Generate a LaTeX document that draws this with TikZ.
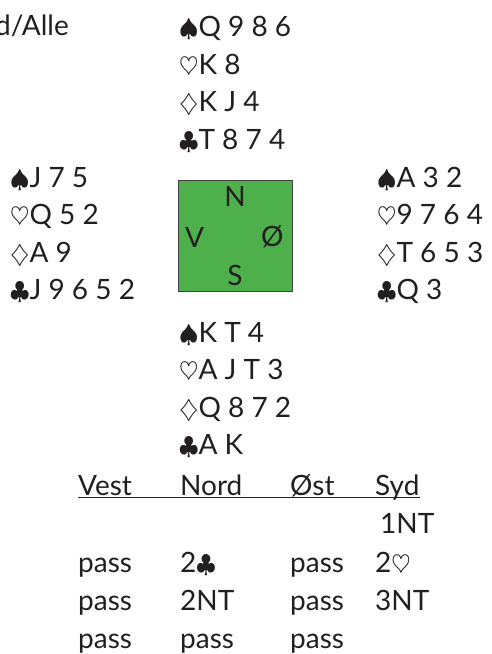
\documentclass[tikz,border=0pt]{standalone}
\usepackage{amsmath,amssymb}
\usepackage{fontspec}
\setmainfont{Lato}
\usetikzlibrary{positioning}
\definecolor{ink}{HTML}{231F20}
\definecolor{feltgreen}{HTML}{4DB04B}

\begin{document}
\begin{tikzpicture}[x=1pt, y=-1pt,
  txt/.style={inner sep=0pt, anchor=base west, text=ink,
              font=\fontsize{28}{34}\selectfont},
  cardrow/.style={txt, below=37.6pt of #1.base west, anchor=base west},
  seat/.style={txt, anchor=center},
  table/.style={rectangle, draw=black!75, fill=feltgreen, line width=0.8pt,
                minimum width=114pt, minimum height=111pt, inner sep=0pt},
]
  \useasboundingbox (0,0) rectangle (492,654);

  \node[txt, anchor=base east] (dealer) at (69,35) {Syd/Alle};

  % North
  \node[txt] (n1) at (179,36.5) {$\spadesuit$Q 9 8 6};
  \node[cardrow=n1] (n2) {$\heartsuit$K 8};
  \node[cardrow=n2] (n3) {$\diamondsuit$K J 4};
  \node[cardrow=n3] (n4) {$\clubsuit$T 8 7 4};

  % West
  \node[txt] (w1) at (10,187) {$\spadesuit$J 7 5};
  \node[cardrow=w1] (w2) {$\heartsuit$Q 5 2};
  \node[cardrow=w2] (w3) {$\diamondsuit$A 9};
  \node[cardrow=w3] (w4) {$\clubsuit$J 9 6 5 2};

  % East
  \node[txt] (e1) at (377,187) {$\spadesuit$A 3 2};
  \node[cardrow=e1] (e2) {$\heartsuit$9 7 6 4};
  \node[cardrow=e2] (e3) {$\diamondsuit$T 6 5 3};
  \node[cardrow=e3] (e4) {$\clubsuit$Q 3};

  % South
  \node[txt] (s1) at (179,342) {$\spadesuit$K T 4};
  \node[cardrow=s1] (s2) {$\heartsuit$A J T 3};
  \node[cardrow=s2] (s3) {$\diamondsuit$Q 8 7 2};
  \node[cardrow=s3] (s4) {$\clubsuit$A K};

  % table with seats
  \node[table] (felt) at (235,235.5) {};
  \node[seat] (seatN) at ([yshift=-17pt]felt.north) {N};
  \node[seat] (seatV) at ([xshift=17pt,yshift=-1.5pt]felt.west) {V};
  \node[seat] (seatO) at ([xshift=-20pt,yshift=-1.5pt]felt.east) {Ø};
  \node[seat] (seatS) at ([yshift=16pt]felt.south) {S};

  % bidding
  \node[txt] (hv) at (78,495) {Vest};
  \node[txt] (hn) at (180,495) {Nord};
  \node[txt] (ho) at (290,495) {Øst};
  \node[txt] (hs) at (375,495) {Syd};
  \draw[ink, line width=1pt] ([yshift=-2.5pt]hv.base west) -- ([yshift=-2.5pt]hs.base east);

  \node[txt] (b1s) at (380,533) {1NT};
  \node[txt] (b2v) at (78,572) {pass};
  \node[txt] (b2n) at (180,572) {2$\clubsuit$};
  \node[txt] (b2o) at (290,572) {pass};
  \node[txt] (b2s) at (375,572) {2$\heartsuit$};
  \node[txt] (b3v) at (78,610) {pass};
  \node[txt] (b3n) at (180,610) {2NT};
  \node[txt] (b3o) at (290,610) {pass};
  \node[txt] (b3s) at (375,610) {3NT};
  \node[txt] (b4v) at (78,648) {pass};
  \node[txt] (b4n) at (180,648) {pass};
  \node[txt] (b4o) at (290,648) {pass};
\end{tikzpicture}
\end{document}
